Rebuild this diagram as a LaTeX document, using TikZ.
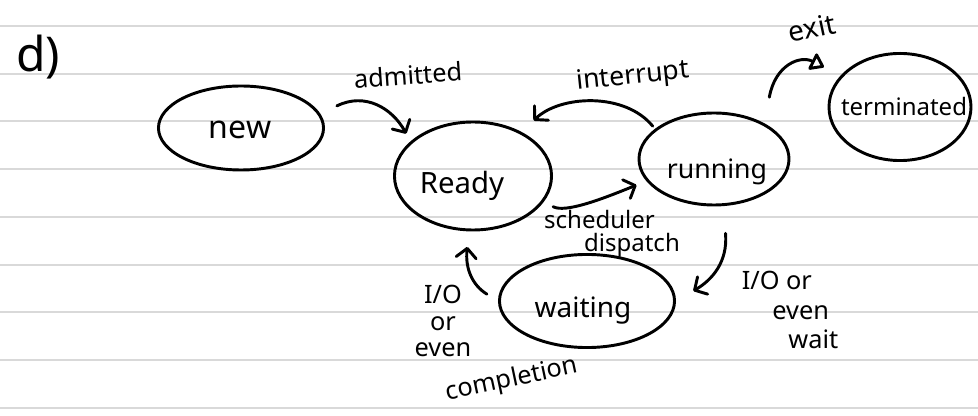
\documentclass[tikz,border=0pt]{standalone}
\usepackage{fontspec}
\setmainfont{Noto Sans}
\usetikzlibrary{shapes.geometric,arrows.meta}

\begin{document}
\begin{tikzpicture}[x=0.75pt,y=0.75pt,yscale=-1,xscale=1,
  ruled/.style={draw={rgb, 255:red, 217; green, 217; blue, 217},line width=1.5pt},
  state/.style={draw,ellipse,line width=2.2pt,inner sep=0pt},
  lbl/.style={inner sep=0.75pt,align=left,font=\fontsize{19}{21}\selectfont},
  arr/.style={line width=2.2pt,line cap=round,line join=round,-{Straight Barb[length=7pt,width=15pt,round]}}]
%set diagram left start at 0, and has height of 416
\fill[white] (0,0) rectangle (978,416);
\useasboundingbox (0,0) rectangle (978,416);

%Ruled paper lines
\foreach \i in {0,...,8}
  \draw[ruled] (0,{26+47.75*\i}) -- (978,{26+47.75*\i});

%Shape: Ellipse
\node[state,minimum width=123.8pt,minimum height=63pt] (new) at (241,128) {};
%Shape: Ellipse
\node[state,minimum width=117.8pt,minimum height=81pt] (ready) at (473,176) {};
%Shape: Ellipse
\node[state,minimum width=112.5pt,minimum height=69pt] (running) at (714,159) {};
%Shape: Ellipse
\node[state,minimum width=106.5pt,minimum height=80.3pt] (terminated) at (900,107) {};
%Shape: Ellipse
\node[state,minimum width=131.3pt,minimum height=69.8pt] (waiting) at (587,301) {};

% Text Node
\node[lbl,font=\fontsize{24}{26}\selectfont] (newtxt) at (240,130) {new};
% Text Node
\node[lbl,font=\fontsize{22}{24}\selectfont] (readytxt) at (462,186) {Ready};
% Text Node
\node[lbl,font=\fontsize{20}{22}\selectfont] (runningtxt) at (717,172) {running};
% Text Node
\node[lbl,font=\fontsize{18}{20}\selectfont] (terminatedtxt) at (904,107) {terminated};
% Text Node
\node[lbl,font=\fontsize{21}{23}\selectfont] (waitingtxt) at (583,311) {waiting};

% Text Node
\node[lbl,font=\fontsize{36}{38}\selectfont] (part) at (38,57) {d)};
% Text Node
\node[lbl,rotate=4] (admlbl) at (408,75) {admitted};
% Text Node
\node[lbl,rotate=6,font=\fontsize{20}{22}\selectfont] (intlbl) at (633,77) {interrupt};
% Text Node
\node[lbl,rotate=12,font=\fontsize{21}{23}\selectfont] (exitlbl) at (812,28) {exit};
% Text Node
\node[lbl,font=\fontsize{18}{17}\selectfont] (schedlbl) at (612,234) {scheduler\\\hspace*{30pt}dispatch};
% Text Node
\node[lbl,font=\fontsize{19}{22}\selectfont] (waitlbl) at (790,310) {I/O or\\\hspace*{23pt}even\\\hspace*{35pt}wait};
% Text Node
\node[lbl,align=center,font=\fontsize{19}{20}\selectfont] (complbl) at (443,321) {I/O\\or\\even};
% Text Node
\node[lbl,rotate=12] (complbl2) at (512,380) {completion};

%Curve Lines
\draw[arr,shorten <=13.7pt,shorten >=6.6pt] (new.10.5) .. controls (365,92) and (392,108) .. (ready.151.8);
%Curve Lines
\draw[arr,shorten <=2.6pt,shorten >=12.4pt] (running.153.8) .. controls (625,92) and (560,95) .. (ready.42);
%Curve Lines
\draw[arr,shorten <=7.9pt,shorten >=7.9pt] (ready.-20) .. controls (565,213) and (600,200) .. (running.198.7);
%Curve Lines
\draw[line width=2.2pt,line cap=round,line join=round,-{Triangle[open,length=11pt,width=15pt,round]},shorten <=20pt,shorten >=14pt] (running.35) .. controls (775,65) and (800,55) .. (terminated.152.2);
%Curve Lines
\draw[arr,shorten <=20.5pt,shorten >=15pt] (running.-79.3) .. controls (728,262) and (712,280) .. (waiting.0);
%Curve Lines
\draw[arr,shorten <=9.8pt,shorten >=11.7pt] (waiting.180) .. controls (472,285) and (465,268) .. (ready.-94);

\end{tikzpicture}
\end{document}
